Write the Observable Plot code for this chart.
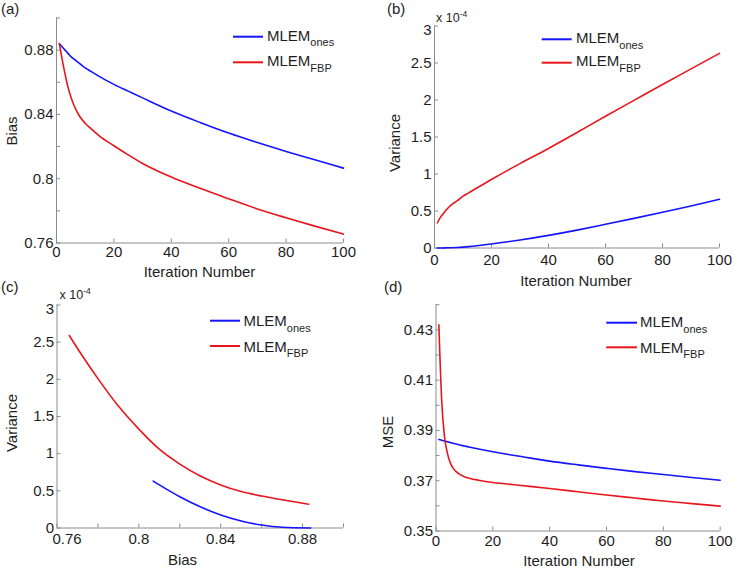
<!DOCTYPE html>
<html><head><meta charset="utf-8">
<script src="https://cdn.jsdelivr.net/npm/d3@7"></script>
<script src="https://cdn.jsdelivr.net/npm/@observablehq/plot@0.6"></script>
<style>
body{margin:0;background:#fff;}
#chart{position:relative;width:738px;height:569px;font-family:"Liberation Sans",Arial,Helvetica,sans-serif;}
#chart svg{position:absolute;}
</style></head><body><div id="chart"></div>
<script>
// ---- data ----
const iterations = [1,2,3,4,5,6,8,10,12,15,20,25,30,40,50,60,70,80,90,100];
const biasOnes = [0.884,0.882,0.880,0.878,0.876,0.8745,0.8718,0.869,0.8668,0.8635,0.8587,0.8545,0.8503,0.8421,0.835,0.8284,0.8225,0.817,0.8118,0.8066];
const biasFBP  = [0.884,0.874,0.865,0.857,0.851,0.846,0.839,0.8345,0.8312,0.8265,0.8205,0.8148,0.8095,0.801,0.794,0.7875,0.7812,0.7757,0.7705,0.7655];
const varOnes  = [0,0.0005,0.001,0.002,0.003,0.004,0.007,0.012,0.018,0.03,0.055,0.08,0.108,0.171,0.242,0.32,0.40,0.482,0.568,0.658];
const varFBP   = [0.338,0.41,0.46,0.51,0.55,0.585,0.64,0.70,0.745,0.815,0.925,1.035,1.14,1.345,1.56,1.78,1.995,2.21,2.42,2.63];
const mseOnes  = [0.3864,0.3861,0.3858,0.3855,0.3852,0.3849,0.3843,0.3838,0.3833,0.3826,0.3815,0.3805,0.3796,0.3778,0.3763,0.3749,0.3736,0.3725,0.3713,0.3702];
const mseFBP   = [0.432,0.402,0.3874,0.381,0.3772,0.375,0.3728,0.3716,0.3709,0.3702,0.3693,0.3687,0.3681,0.3669,0.3656,0.3643,0.3631,0.3619,0.3609,0.3599];
// panel (c): variance vs bias trade-off curves
const tradeBiasOnes = [0.807,0.81,0.82,0.83,0.84,0.85,0.86,0.87,0.884];
const tradeVarOnes  = [0.63,0.58,0.42,0.285,0.175,0.095,0.04,0.01,0];
const tradeBiasFBP  = [0.766,0.773,0.78,0.79,0.80,0.81,0.82,0.83,0.84,0.85,0.86,0.87,0.883];
const tradeVarFBP   = [2.59,2.29,2.01,1.64,1.33,1.06,0.86,0.70,0.58,0.49,0.43,0.38,0.32];
// ticks
const iterTicks = [0,20,40,60,80,100];
const biasTicks = [0.76,0.78,0.80,0.82,0.84,0.86,0.88,0.90];
const biasLabels = [0.76,0.8,0.84,0.88];
const biasLabelsInner = [0.8,0.84,0.88];
const biasFirstLabel = [0.76];
const varTicks = [0,0.5,1,1.5,2,2.5,3];
const varLabels = [0,0.5,1,1.5,2,2.5];
const varTopLabel = [3];
const mseTicks = [0.35,0.36,0.37,0.38,0.39,0.40,0.41,0.42,0.43,0.44];
const mseLabels = [0.35,0.37,0.39,0.41,0.43];
const seriesNames = ["ones","FBP"];
const panelLetters = ["(a)","(b)","(c)","(d)"];
const axisTitles = {iter:"Iteration Number", bias:"Bias", variance:"Variance", mse:"MSE"};
const exponentText = ["x 10","-4"];

// ---- styling ----
const FONT = '"Liberation Sans", Arial, Helvetica, sans-serif';
const BLUE = "#1414ff", RED = "#e8161c", AXIS = "#8c8c8c", INK = "#1e1e1e";
const chart = document.getElementById("chart");

function rows(xs, ys){ return xs.map((x,i)=>({x, y: ys[i]})); }

function panel(cfg){
  const xPad = cfg.xPad ?? 3;
  const marks = [
    Plot.ruleX([cfg.xDomain[0]], {stroke: AXIS, strokeWidth: 1}),
    Plot.ruleY([cfg.yDomain[0]], {stroke: AXIS, strokeWidth: 1}),
    Plot.axisY(cfg.yTicks, {tickSize: 4, dx: 4, stroke: AXIS, tickFormat: () => "", label: null}),
    Plot.axisX(cfg.xTicks, {tickSize: 4, dy: -4, stroke: AXIS, tickFormat: () => "", label: null}),
    Plot.axisY(cfg.yLabels, {tickSize: 0, tickPadding: 3, tickFormat: d => String(d), label: null, fill: INK}),
    Plot.axisX(cfg.xLabels, {tickSize: 0, tickPadding: xPad, tickFormat: d => String(d), label: null, fill: INK})
  ];
  if (cfg.yTopLabel) marks.push(Plot.axisY(cfg.yTopLabel, {tickSize: 0, tickPadding: 3, dy: 4, tickFormat: d => String(d), label: null, fill: INK}));
  if (cfg.xFirstLabel) marks.push(Plot.axisX(cfg.xFirstLabel, {tickSize: 0, tickPadding: xPad, dx: 10, tickFormat: d => String(d), label: null, fill: INK}));
  for (const s of cfg.series) {
    marks.push(Plot.line(rows(s.x, s.y), {x: "x", y: "y", stroke: s.color, strokeWidth: 1.6, curve: "monotone-x"}));
  }
  const svg = Plot.plot({
    width: cfg.width, height: cfg.height,
    marginLeft: cfg.ml, marginRight: cfg.mr, marginTop: cfg.mt, marginBottom: cfg.mb,
    x: {domain: cfg.xDomain}, y: {domain: cfg.yDomain},
    style: {fontFamily: FONT, fontSize: "15px", color: INK, background: "transparent", overflow: "visible"},
    marks
  });
  svg.style.left = cfg.left + "px";
  svg.style.top = cfg.top + "px";
  chart.appendChild(svg);
}

// (a) Bias vs iteration
panel({left: 0, top: 0, width: 369, height: 284, ml: 56, mr: 26, mt: 17.5, mb: 41.5, xPad: 3,
  xDomain: [0,100], yDomain: [0.76,0.90], xTicks: iterTicks, xLabels: iterTicks, yTicks: biasTicks, yLabels: biasLabels,
  series: [{x: iterations, y: biasOnes, color: BLUE}, {x: iterations, y: biasFBP, color: RED}]});
// (b) Variance vs iteration
panel({left: 369, top: 0, width: 369, height: 284, ml: 65, mr: 19, mt: 25.5, mb: 36.5, xPad: 6,
  xDomain: [0,100], yDomain: [0,3], xTicks: iterTicks, xLabels: iterTicks, yTicks: varTicks, yLabels: varLabels, yTopLabel: varTopLabel,
  series: [{x: iterations, y: varOnes, color: BLUE}, {x: iterations, y: varFBP, color: RED}]});
// (c) Variance vs bias
panel({left: 0, top: 284, width: 369, height: 285, ml: 56.5, mr: 26, mt: 20.5, mb: 41.5, xPad: 5.5,
  xDomain: [0.76,0.90], yDomain: [0,3], xTicks: biasTicks, xLabels: biasLabelsInner, xFirstLabel: biasFirstLabel,
  yTicks: varTicks, yLabels: varLabels, yTopLabel: varTopLabel,
  series: [{x: tradeBiasOnes, y: tradeVarOnes, color: BLUE}, {x: tradeBiasFBP, y: tradeVarFBP, color: RED}]});
// (d) MSE vs iteration
panel({left: 369, top: 284, width: 369, height: 285, ml: 66.5, mr: 18.3, mt: 20.2, mb: 38.5, xPad: 4.5,
  xDomain: [0,100], yDomain: [0.35,0.44], xTicks: iterTicks, xLabels: iterTicks, yTicks: mseTicks, yLabels: mseLabels,
  series: [{x: iterations, y: mseOnes, color: BLUE}, {x: iterations, y: mseFBP, color: RED}]});

// ---- overlay texts: panel letters, axis titles, exponents, legends ----
const ov = d3.select(chart).append("svg").attr("width", 738).attr("height", 569)
  .style("left","0px").style("top","0px").style("pointer-events","none")
  .attr("font-family", FONT).attr("fill", INK);

const letterPos = [[1,13.5],[387,13.5],[1,292],[384,292]];
panelLetters.forEach((t,i)=> ov.append("text").attr("x", letterPos[i][0]).attr("y", letterPos[i][1]).attr("font-size", 15).text(t));

// x titles
[[axisTitles.iter, 199.5, 277], [axisTitles.iter, 576, 285.5], [axisTitles.bias, 182.5, 565], [axisTitles.iter, 579, 566]]
  .forEach(([t,x,y]) => ov.append("text").attr("x", x).attr("y", y).attr("text-anchor","middle").attr("font-size", 15).text(t));
// y titles (rotated)
[[axisTitles.bias, 16.5, 131], [axisTitles.variance, 399.5, 143], [axisTitles.variance, 16.5, 423], [axisTitles.mse, 393, 432]]
  .forEach(([t,x,y]) => ov.append("text").attr("transform", `translate(${x},${y}) rotate(-90)`).attr("text-anchor","middle").attr("font-size", 15).text(t));

// exponent labels
[[436, 21.7], [59.5, 298.5]].forEach(([x,y]) => {
  const t = ov.append("text").attr("x", x).attr("y", y).attr("font-size", 12.5);
  t.append("tspan").text(exponentText[0]);
  t.append("tspan").attr("font-size", 8.5).attr("dy", -5).text(exponentText[1]);
});

// legends
const legends = [
  {x1: 233, x2: 263, tx: 267, ly: [36.7, 62.3], by: [40.5, 66]},
  {x1: 541.7, x2: 571.7, tx: 576, ly: [39.3, 62.7], by: [43, 66.3]},
  {x1: 210, x2: 240, tx: 243.5, ly: [320.7, 346], by: [326, 351.5]},
  {x1: 606.3, x2: 637, tx: 640, ly: [322.7, 347.3], by: [327.3, 352.7]}
];
const legendColors = [BLUE, RED];
legends.forEach(L => {
  seriesNames.forEach((name, i) => {
    ov.append("line").attr("x1", L.x1).attr("x2", L.x2).attr("y1", L.ly[i]).attr("y2", L.ly[i])
      .attr("stroke", legendColors[i]).attr("stroke-width", 2);
    const t = ov.append("text").attr("x", L.tx).attr("y", L.by[i]).attr("font-size", 15);
    t.append("tspan").text("MLEM");
    t.append("tspan").attr("font-size", 11).attr("dy", 5.5).text(name);
  });
});
</script></body></html>
